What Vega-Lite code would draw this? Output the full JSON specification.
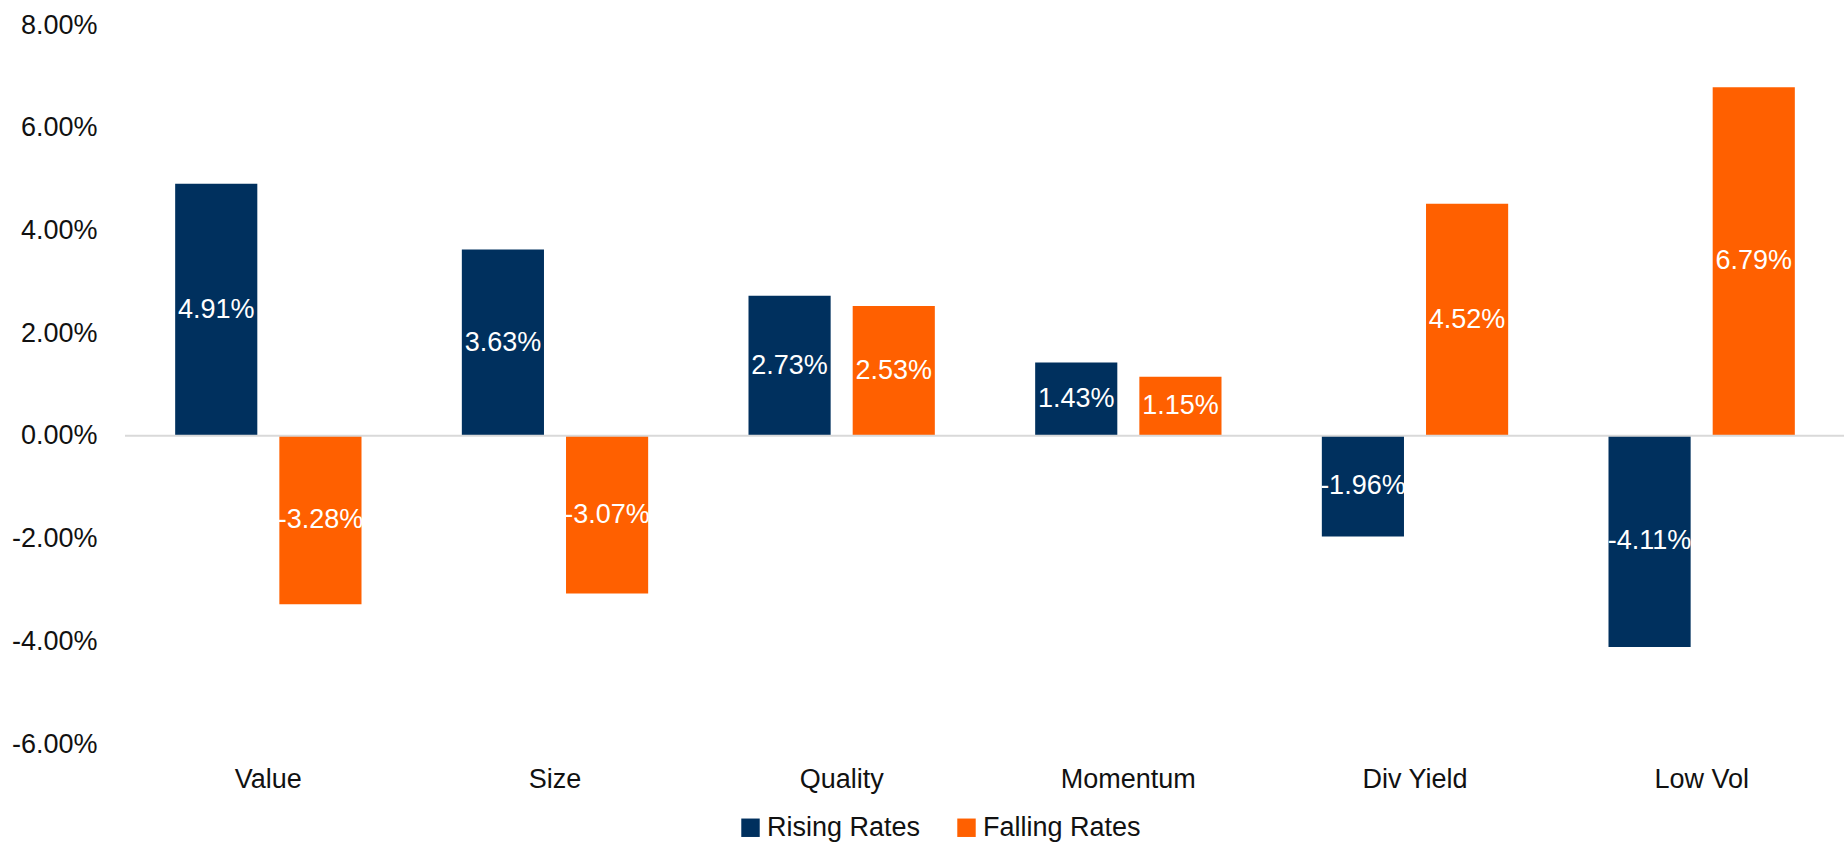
{
  "$schema": "https://vega.github.io/schema/vega-lite/v6.json",
  "width": 1720,
  "height": 719,
  "autosize": {"type": "none"},
  "padding": {"left": 125, "top": 25, "right": 0, "bottom": 100},
  "background": "white",
  "config": {
    "view": {"stroke": null},
    "locale": {"number": {"decimal": ".", "thousands": ",", "grouping": [3], "currency": ["$", ""], "minus": "-"}},
    "font": "Liberation Sans",
    "axis": {"labelFont": "Liberation Sans", "labelFontSize": 27, "labelColor": "#111111"},
    "legend": {"labelFont": "Liberation Sans", "labelFontSize": 27, "labelColor": "#111111"}
  },
  "data": {
    "values": [
      {"factor": "Value", "series": "Rising Rates", "value": 0.0491},
      {"factor": "Value", "series": "Falling Rates", "value": -0.0328},
      {"factor": "Size", "series": "Rising Rates", "value": 0.0363},
      {"factor": "Size", "series": "Falling Rates", "value": -0.0307},
      {"factor": "Quality", "series": "Rising Rates", "value": 0.0273},
      {"factor": "Quality", "series": "Falling Rates", "value": 0.0253},
      {"factor": "Momentum", "series": "Rising Rates", "value": 0.0143},
      {"factor": "Momentum", "series": "Falling Rates", "value": 0.0115},
      {"factor": "Div Yield", "series": "Rising Rates", "value": -0.0196},
      {"factor": "Div Yield", "series": "Falling Rates", "value": 0.0452},
      {"factor": "Low Vol", "series": "Rising Rates", "value": -0.0411},
      {"factor": "Low Vol", "series": "Falling Rates", "value": 0.0679}
    ]
  },
  "encoding": {
    "x": {
      "field": "factor",
      "type": "nominal",
      "sort": ["Value", "Size", "Quality", "Momentum", "Div Yield", "Low Vol"],
      "scale": {"paddingInner": 0.35, "paddingOuter": 0.175},
      "axis": {"title": null, "labelAngle": 0, "domain": false, "ticks": false, "labelPadding": 22}
    },
    "xOffset": {
      "field": "series",
      "type": "nominal",
      "sort": ["Rising Rates", "Falling Rates"],
      "scale": {"paddingInner": 0.2115, "paddingOuter": 0}
    }
  },
  "layer": [
    {
      "mark": {"type": "bar"},
      "encoding": {
        "y": {
          "field": "value",
          "type": "quantitative",
          "scale": {"domain": [-0.06, 0.08], "nice": false, "zero": false},
          "axis": {"title": null, "format": ".2%", "values": [-0.06, -0.04, -0.02, 0, 0.02, 0.04, 0.06, 0.08], "grid": false, "domain": false, "ticks": false, "labelPadding": 28}
        },
        "color": {
          "field": "series",
          "type": "nominal",
          "sort": ["Rising Rates", "Falling Rates"],
          "scale": {"domain": ["Rising Rates", "Falling Rates"], "range": ["#00305E", "#FF6000"]},
          "legend": {
            "title": null,
            "orient": "none",
            "direction": "horizontal",
            "legendX": 612,
            "legendY": 789,
            "symbolType": "square",
            "symbolSize": 340,
            "symbolStrokeWidth": 0,
            "columnPadding": 32,
            "labelOffset": 3
          }
        }
      }
    },
    {
      "data": {"values": [{"zero": 0}]},
      "mark": {"type": "rule", "color": "#D9D9D9", "strokeWidth": 2},
      "encoding": {
        "x": null,
        "xOffset": null,
        "y": {"field": "zero", "type": "quantitative", "scale": {"domain": [-0.06, 0.08], "nice": false, "zero": false}, "axis": null}
      }
    },
    {
      "mark": {"type": "text", "color": "white", "fontSize": 27, "baseline": "middle", "align": "center"},
      "encoding": {
        "y": {"field": "value", "type": "quantitative", "scale": {"domain": [-0.12, 0.16], "nice": false, "zero": false}, "axis": null},
        "text": {"field": "value", "type": "quantitative", "format": ".2%"}
      }
    }
  ],
  "resolve": {"scale": {"y": "independent"}}
}
